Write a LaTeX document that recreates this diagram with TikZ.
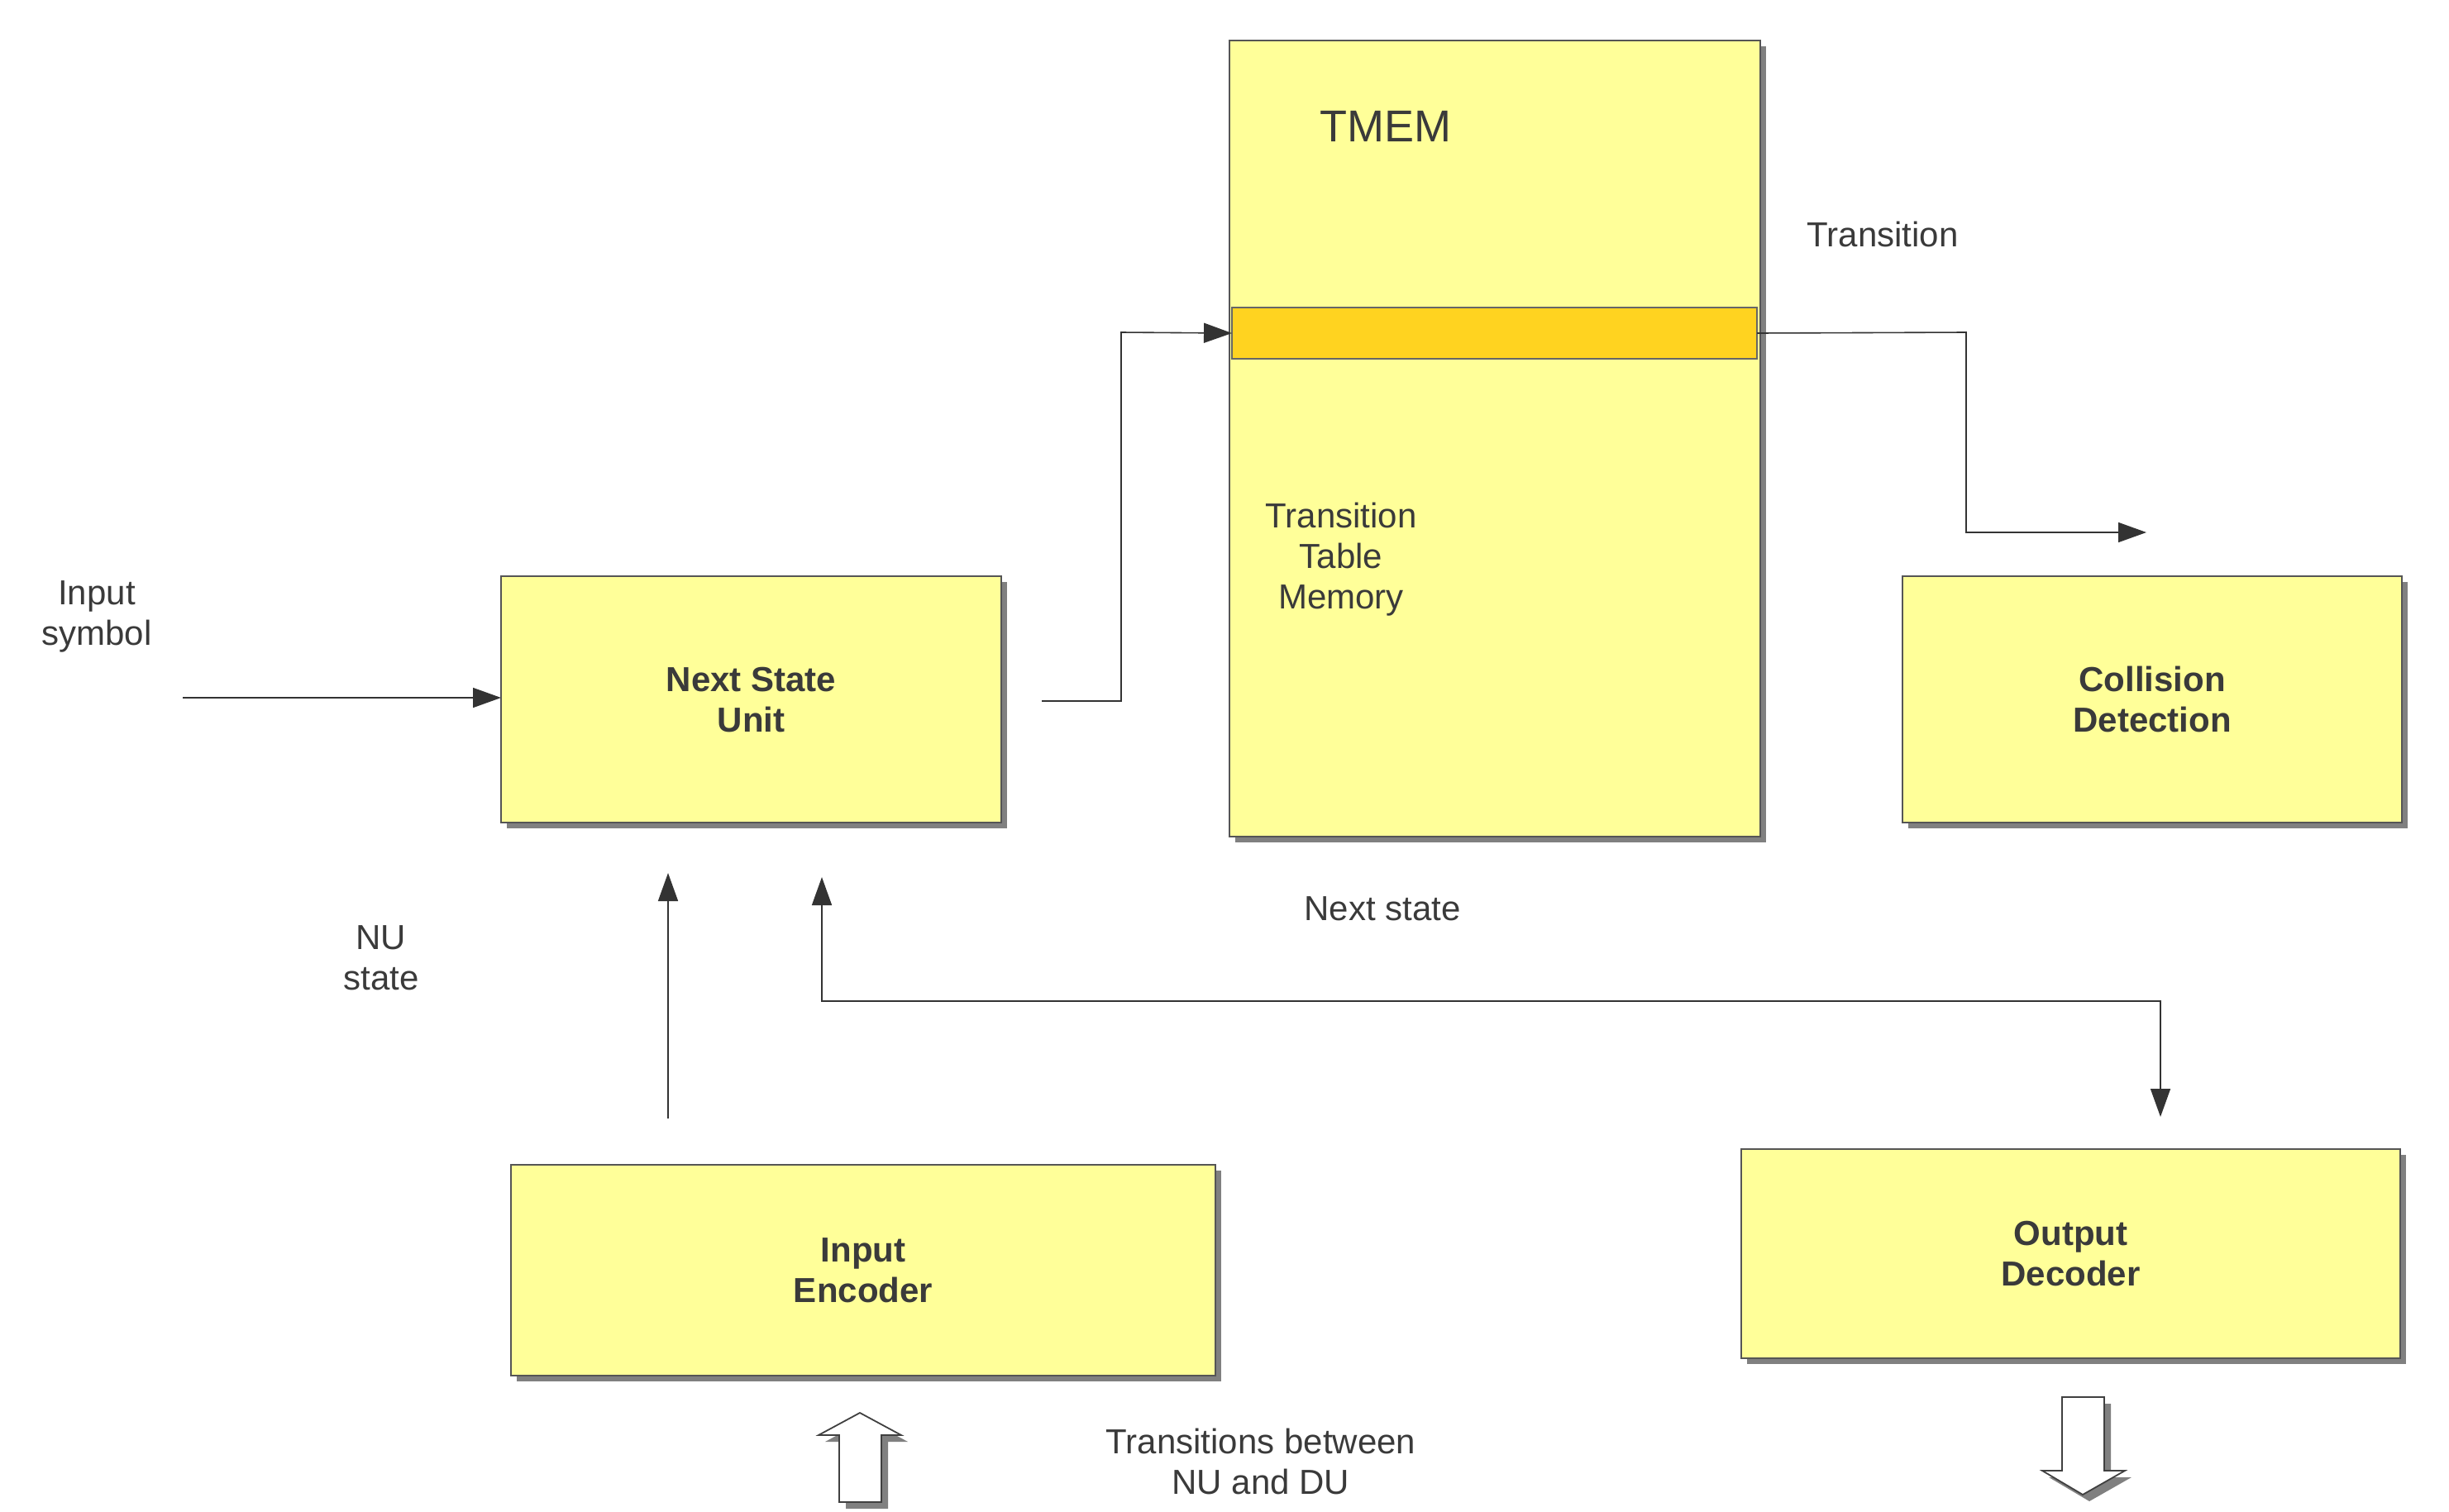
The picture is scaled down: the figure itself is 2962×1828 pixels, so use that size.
\documentclass[tikz,border=0pt]{standalone}
\usepackage{fontspec}
\setmainfont{Liberation Sans}
\usetikzlibrary{arrows.meta,shadows}
\definecolor{boxfill}{HTML}{FFFF99}
\definecolor{bandfill}{HTML}{FFD320}
\definecolor{txt}{HTML}{3A3A3A}
\definecolor{shad}{HTML}{808080}
\definecolor{edgec}{HTML}{555555}
\begin{document}
\begin{tikzpicture}[x=1pt,y=-1pt,
  blk/.style={draw=edgec, line width=1.5pt, fill=boxfill, inner sep=0pt, outer sep=0pt,
    drop shadow={shadow xshift=7pt, shadow yshift=-7pt, fill=shad, opacity=1},
    text=txt, font=\fontsize{42}{49}\selectfont\bfseries, align=center},
  lbl/.style={text=txt, font=\fontsize{42}{49}\selectfont, align=center, inner sep=0pt},
  conn/.style={draw=black!80, line width=1.6pt, -{Triangle[length=34pt,width=24pt]}},
  barrow/.style={draw=black!75, line width=1.8pt, fill=white, line join=miter}
]
\useasboundingbox (0,0) rectangle (2962,1828);

% boxes
\node[blk, minimum width=605pt, minimum height=298pt, text depth=0pt] (nsu) at (908.5,846) {Next State\\Unit};
\node[blk, minimum width=642pt, minimum height=963pt] (tmem) at (1808,530.5) {};
\node[draw=black!60, line width=1.5pt, fill=bandfill, inner sep=0pt, outer sep=0pt,
      minimum width=635pt, minimum height=62pt] (band) at (1807.5,403) {};
\node[blk, minimum width=604pt, minimum height=298pt] (cd) at (2603,846) {Collision\\Detection};
\node[blk, minimum width=852pt, minimum height=255pt] (ie) at (1044,1536.5) {Input\\Encoder};
\node[blk, minimum width=797pt, minimum height=253pt] (od) at (2504.5,1516.5) {Output\\Decoder};

% labels
\node[lbl] (linput) at (117,746) {Input\\symbol};
\node[lbl] (lnu) at (461,1159) {NU\\state};
\node[lbl, font=\fontsize{54}{60}\selectfont] (ltmem) at (1676,153) {TMEM};
\node[lbl] (lttm) at (1622,677) {Transition\\Table\\Memory};
\node[lbl] (ltrans) at (2277,283) {Transition};
\node[lbl] (lnext) at (1672,1099) {Next state};
\node[lbl] (lbetween) at (1525,1768) {Transitions between\\NU and DU};

% free-end coordinates
\coordinate (insrc) at (221,844);
\coordinate (nsuout) at (1260,848);
\coordinate (cdin) at (2596,644);
\coordinate (ieout) at (808,1353);
\coordinate (nsuin) at (808,1056);
\coordinate (fbtop) at (994,1061);
\coordinate (odin) at (2613,1351);

% connectors
\draw[conn] (insrc) -- (insrc -| nsu.west);
\draw[conn] (nsuout) -- (1356,848) -- (1356,402) -- (band.west);
\draw[conn] (band.east) -- (2378,402) -- (2378,644) -- (cdin);
\draw[conn] (ieout) -- (nsuin);
\draw[conn, {Triangle[length=34pt,width=24pt]}-{Triangle[length=34pt,width=24pt]}]
  (fbtop) -- (994,1211) -- (2613,1211) -- (odin);

% block arrows
\fill[shad, shift={(8,8)}] (1040,1709) -- (1090,1736) -- (1066,1736) -- (1066,1817) -- (1015,1817) -- (1015,1736) -- (990,1736) -- cycle;
\draw[barrow] (1040,1709) -- (1090,1736) -- (1066,1736) -- (1066,1817) -- (1015,1817) -- (1015,1736) -- (990,1736) -- cycle;
\fill[shad, shift={(8,8)}] (2494,1690) -- (2545,1690) -- (2545,1779) -- (2570,1779) -- (2519,1808) -- (2470,1779) -- (2494,1779) -- cycle;
\draw[barrow] (2494,1690) -- (2545,1690) -- (2545,1779) -- (2570,1779) -- (2519,1808) -- (2470,1779) -- (2494,1779) -- cycle;
\end{tikzpicture}
\end{document}
